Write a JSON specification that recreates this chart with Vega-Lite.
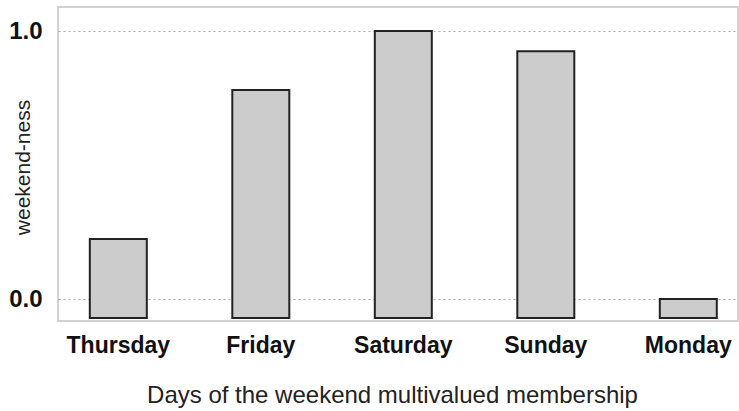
{
  "$schema": "https://vega.github.io/schema/vega-lite/v6.json",
  "autosize": "none",
  "padding": {"left": 58, "top": 7, "right": 1, "bottom": 90},
  "width": 680,
  "height": 314,
  "background": "white",
  "config": {
    "font": "Liberation Sans",
    "view": {"stroke": "#d2d2d2", "strokeWidth": 2}
  },
  "data": {
    "values": [
      {"day": "Thursday", "weekendness": 0.224},
      {"day": "Friday", "weekendness": 0.78},
      {"day": "Saturday", "weekendness": 1.0},
      {"day": "Sunday", "weekendness": 0.925},
      {"day": "Monday", "weekendness": 0.0}
    ]
  },
  "mark": {"type": "bar", "fill": "#cccccc", "stroke": "#222222", "strokeWidth": 2},
  "encoding": {
    "x": {
      "field": "day",
      "type": "nominal",
      "sort": null,
      "scale": {"paddingInner": 0.6, "paddingOuter": 0.186, "align": 0.6},
      "axis": {
        "title": "Days of the weekend multivalued membership",
        "titleFontSize": 24,
        "titleFontWeight": "normal",
        "titleColor": "#222222",
        "titlePadding": 26,
        "titleX": 334,
        "titleAlign": "center",
        "labelAngle": 0,
        "labelFontSize": 23,
        "labelFontWeight": "bold",
        "labelColor": "#111111",
        "labelPadding": 13,
        "ticks": false,
        "domain": false
      }
    },
    "y": {
      "field": "weekendness",
      "type": "quantitative",
      "scale": {"domain": [-0.082, 1.09], "nice": false, "zero": false},
      "axis": {
        "title": "weekend-ness",
        "titleFontSize": 21,
        "titleFontWeight": "normal",
        "titleColor": "#222222",
        "titleX": -25,
        "titleY": 160,
        "titleBaseline": "bottom",
        "values": [0, 1],
        "format": ".1f",
        "labelFontSize": 24,
        "labelFontWeight": "bold",
        "labelColor": "#111111",
        "labelPadding": 16,
        "ticks": false,
        "domain": false,
        "grid": true,
        "gridColor": "#aaaaaa",
        "gridDash": [2, 3],
        "gridWidth": 1
      }
    },
    "y2": {"datum": -0.071}
  }
}
